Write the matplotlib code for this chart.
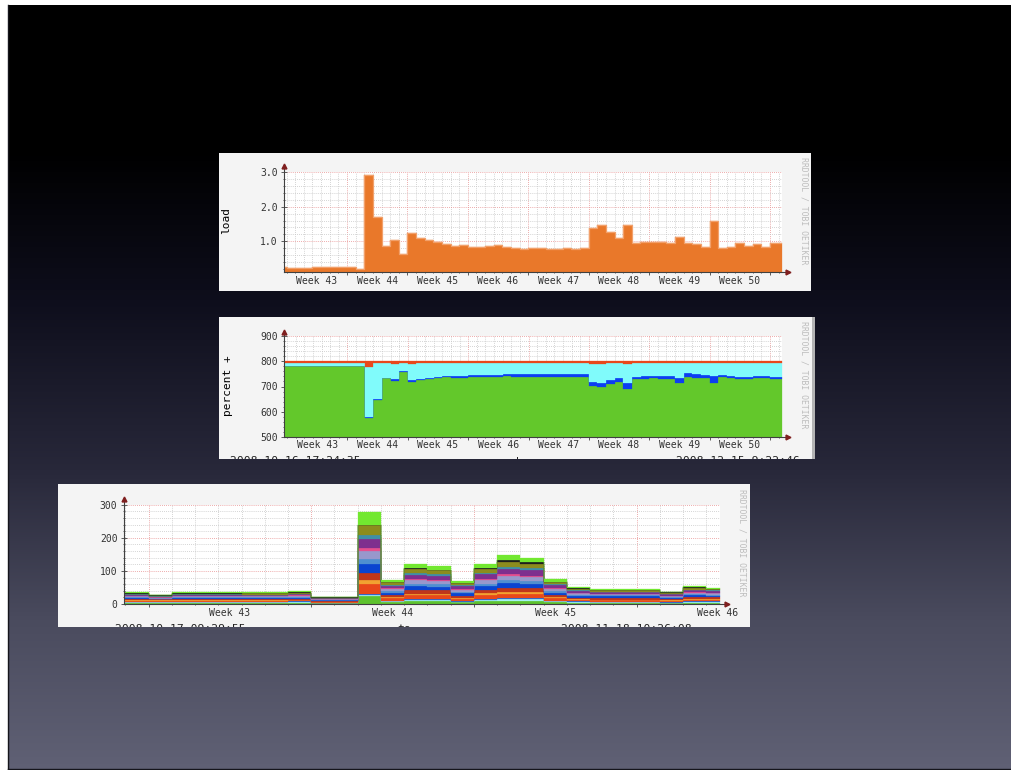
import matplotlib
matplotlib.use("Agg")
import matplotlib.pyplot as plt
import matplotlib.transforms as mtransforms
import numpy as np
from matplotlib.patches import Rectangle

W, H = 1012, 770
MONO = "DejaVu Sans Mono"

# daily load average over eight weeks
load_avg = [0.26, 0.22, 0.22, 0.22, 0.25, 0.25, 0.25, 0.25, 0.25, 0.20,
            2.91, 1.70, 0.86, 1.03, 0.63, 1.23, 1.09, 1.03, 0.97, 0.92,
            0.86, 0.88, 0.85, 0.83, 0.86, 0.88, 0.83, 0.80, 0.77, 0.80,
            0.82, 0.78, 0.79, 0.80, 0.78, 0.80, 1.38, 1.46, 1.28, 1.11,
            1.46, 0.95, 0.97, 0.99, 0.97, 0.95, 1.12, 0.95, 0.92, 0.85,
            1.60, 0.80, 0.83, 0.95, 0.87, 0.93, 0.83, 0.95]

# cpu usage of 8 cores (percent), stacked idle / system / user / wait
cpu_total = 800
cpu_idle = [782] * 10 + [575, 648, 732, 721, 758, 717, 725, 729, 733, 736,
                         734, 732, 737, 737, 737, 737, 740] + [739] * 9 + \
           [703, 699, 708, 718, 692, 728, 730, 732, 730, 730, 712, 736,
            732, 733, 712, 738, 733, 728, 729, 733, 733, 729]
cpu_system = [1] * 10 + [3, 2, 3, 7, 2, 8, 5, 5, 5, 6, 7, 8, 8, 8, 8, 8, 10] + \
             [11] * 9 + [16, 14, 17, 16, 23, 10, 12, 9, 12, 12, 20, 16, 16,
                         11, 29, 8, 9, 10, 8, 9, 8, 9]
cpu_wait = [6] * 10 + [24, 7, 7, 12, 7, 12] + [7] * 20 + [12, 10, 7, 7, 12] + [7] * 17

week_labels = ["Week 43", "Week 44", "Week 45", "Week 46",
               "Week 47", "Week 48", "Week 49", "Week 50"]

# per-process cpu time, daily, stacked bottom to top
proc_green = [3, 3, 3, 3, 3, 3, 3, 3, 2, 2, 25, 6, 8, 8, 5, 9, 10, 10, 6, 4, 3, 3, 3, 3, 4, 4]
proc_cyan = [2, 2, 2, 2, 2, 2, 2, 3, 1, 1, 3, 2, 3, 3, 2, 3, 4, 4, 2, 2, 2, 2, 2, 1, 2, 2]
proc_blue = [2, 1, 2, 2, 2, 2, 2, 2, 1, 1, 3, 2, 3, 3, 2, 3, 3, 3, 2, 2, 1, 1, 1, 1, 2, 2]
proc_vermilion = [3, 3, 3, 3, 3, 3, 3, 3, 2, 2, 28, 8, 12, 12, 7, 12, 14, 13, 8, 5, 5, 5, 5, 4, 5, 5]
proc_orange = [2, 2, 2, 2, 2, 2, 2, 2, 1, 1, 12, 3, 5, 5, 3, 5, 6, 6, 3, 2, 2, 2, 2, 2, 3, 2]
proc_darkred = [3, 3, 3, 3, 3, 3, 3, 3, 2, 2, 23, 6, 10, 10, 6, 10, 12, 12, 6, 4, 5, 5, 5, 4, 5, 5]
proc_royal = [3, 2, 3, 3, 3, 3, 3, 3, 2, 2, 26, 7, 12, 11, 7, 12, 14, 13, 7, 5, 5, 5, 5, 4, 5, 5]
proc_steel = [2, 1, 2, 2, 2, 2, 2, 2, 1, 1, 15, 4, 7, 7, 4, 7, 9, 8, 4, 3, 3, 3, 3, 2, 3, 3]
proc_lavender = [3, 2, 3, 3, 3, 3, 3, 3, 2, 2, 25, 7, 11, 10, 6, 11, 13, 12, 7, 5, 4, 4, 4, 3, 5, 4]
proc_pink = [2, 1, 2, 2, 2, 1, 1, 2, 1, 1, 9, 3, 4, 4, 3, 4, 5, 5, 3, 2, 1, 1, 1, 1, 2, 2]
proc_purple = [3, 2, 3, 3, 3, 3, 3, 3, 2, 2, 28, 7, 14, 13, 8, 14, 17, 16, 8, 5, 4, 4, 4, 4, 5, 5]
proc_teal = [1, 1, 1, 1, 1, 1, 1, 1, 1, 1, 12, 3, 5, 5, 3, 5, 6, 6, 3, 2, 2, 2, 2, 1, 2, 2]
proc_olive = [2, 1, 2, 2, 2, 4, 4, 2, 1, 1, 29, 7, 12, 11, 7, 12, 14, 13, 7, 5, 4, 4, 4, 3, 5, 4]
proc_black = [2, 2, 2, 2, 2, 1, 1, 3, 1, 1, 0, 1, 2, 2, 1, 2, 5, 5, 1, 1, 1, 1, 1, 2, 2, 1]
proc_lime = [2, 2, 2, 2, 2, 2, 2, 3, 2, 2, 40, 7, 12, 10, 6, 13, 15, 12, 8, 5, 3, 3, 3, 2, 4, 2]
proc_week_labels = ["Week 43", "Week 44", "Week 45", "Week 46"]

proc_layers = [
    (proc_green, "#5ec22e"), (proc_cyan, "#a4f2f2"), (proc_blue, "#1d6be0"),
    (proc_vermilion, "#e8481a"), (proc_orange, "#f2a231"), (proc_darkred, "#c0361a"),
    (proc_royal, "#0a44d0"), (proc_steel, "#4f8fd0"), (proc_lavender, "#9898cc"),
    (proc_pink, "#e54f8e"), (proc_purple, "#7e2f8e"), (proc_teal, "#3f8fa8"),
    (proc_olive, "#8c8c1e"), (proc_black, "#1e1e1e"), (proc_lime, "#72e830"),
]


def day_edges(first, last_start, end):
    """Step edges: a partial first day, whole days, then a partial last one."""
    return np.r_[0.0, np.arange(first, last_start + 0.01, 1.0), end]


def step_fill(ax, edges, lower, upper, color):
    lo = np.r_[lower, lower[-1]]
    hi = np.r_[upper, upper[-1]]
    ax.fill_between(edges, lo, hi, step="post", facecolor=color,
                    edgecolor=color, lw=0.2)


def px_axes(x0, y0, x1, y1):
    return fig.add_axes([x0 / W, 1 - y1 / H, (x1 - x0) / W, (y1 - y0) / H])


def rrd_style(ax, xlim, ylim, days, weeks, mids, names,
              ymajor, yminor, ylabels, arrow_x, arrow_y):
    ax.set_xlim(xlim)
    ax.set_ylim(ylim)
    ax.set_facecolor("white")
    for s in ax.spines.values():
        s.set_visible(False)
    ax.set_xticks(weeks)
    ax.set_xticklabels([])
    ax.set_xticks(days, minor=True)
    ax.set_yticks(ymajor)
    ax.set_yticklabels(ylabels, fontfamily=MONO, fontsize=7, color="#333333")
    ax.set_yticks(yminor, minor=True)
    ax.set_axisbelow(True)
    ax.grid(which="minor", color="#c6c6c6", lw=0.6, ls=(0, (1, 1.5)))
    ax.grid(which="major", color="#e89090", lw=0.6, ls=(0, (1, 1.5)))
    ax.tick_params(which="both", direction="inout", color="#444444", width=0.6)
    ax.tick_params(which="major", length=4, pad=2.5)
    ax.tick_params(which="minor", length=2)

    # axis lines with the little arrow heads
    ax.plot([0, 1 + arrow_x], [0, 0], transform=ax.transAxes, color="#404040",
            lw=0.8, clip_on=False, zorder=5)
    ax.plot([0, 0], [0, 1 + arrow_y], transform=ax.transAxes, color="#404040",
            lw=0.8, clip_on=False, zorder=5)
    ax.plot([1 + arrow_x], [0], marker=">", ms=3.5, color="#7f1f1f",
            transform=ax.transAxes, clip_on=False, zorder=6)
    ax.plot([0], [1 + arrow_y], marker="^", ms=3.5, color="#7f1f1f",
            transform=ax.transAxes, clip_on=False, zorder=6)

    trans = mtransforms.offset_copy(ax.get_xaxis_transform(), fig=fig,
                                    y=-8.5, units="dots")
    for m, n in zip(mids, names):
        ax.text(m, 0, n, transform=trans, ha="center", va="center",
                fontfamily=MONO, fontsize=7, color="#333333")


fig = plt.figure(figsize=(W / 100, H / 100), dpi=100, facecolor="white")

# slide background
bg = fig.add_axes([0, 0, 1, 1])
bg.set_xlim(0, W)
bg.set_ylim(H, 0)
bg.axis("off")
rows = np.arange(5, H)
stop_y = [5, 150, 300, 470, 620, 770]
stop_rgb = [(0, 0, 0), (0, 0, 0), (14, 14, 28), (40, 40, 58), (74, 75, 94), (96, 97, 117)]
grad = np.stack([np.interp(rows, stop_y, [c[i] for c in stop_rgb]) for i in range(3)], axis=-1)
bg.imshow(grad[:, None, :] / 255.0, extent=[8, W, H, 5], aspect="auto", zorder=0)
bg.plot([8.5, 8.5], [5, H], color="#15151c", lw=1)
bg.plot([8, W], [768.5, 768.5], color="#15151c", lw=1)

# graph canvases (x, y, w, h in pixels)
canvas1 = (219, 153, 592, 138)
canvas2 = (219, 317, 593, 142)
canvas3 = (58, 484, 692, 143)
for x, y, w, h in (canvas1, canvas2, canvas3):
    bg.add_patch(Rectangle((x, y), w, h, facecolor="#f4f4f4", edgecolor="none"))
bg.add_patch(Rectangle((812, 317), 3, 142, facecolor="#b4b4b4", edgecolor="none"))

for x, y0, y1 in ((804, 156, 265), (804, 320, 429), (742.5, 489, 596)):
    bg.text(x, (y0 + y1) / 2, "RRDTOOL / TOBI OETIKER", rotation=270,
            ha="center", va="center", fontfamily=MONO, fontsize=5.9, color="#bdbdbd")
bg.text(226.5, 221, "load", rotation=90, ha="center", va="center",
        fontfamily=MONO, fontsize=8, color="black")
bg.text(228, 386, "percent +", rotation=90, ha="center", va="center",
        fontfamily=MONO, fontsize=8, color="black")

# period captions, cut off by the bottom of their canvas
captions = [
    (230, 456.5, "left", "2008-10-16 17:24:35", canvas2),
    (517, 456.5, "center", "|", canvas2),
    (800, 456.5, "right", "2008-12-15 9:22:46", canvas2),
    (115, 624.5, "left", "2008-10-17 09:29:55", canvas3),
    (404, 624.5, "center", "to", canvas3),
    (692, 624.5, "right", "2008-11-18 10:26:08", canvas3),
]
for x, y, ha, s, (cx, cy, cw, ch) in captions:
    t = bg.text(x, y, s, ha=ha, va="top", fontfamily=MONO, fontsize=8.2, color="#222222")
    clip = mtransforms.TransformedBbox(
        mtransforms.Bbox([[cx, cy], [cx + cw, cy + ch]]), bg.transData)
    t.set_clip_box(clip)
    t.set_clip_on(True)

# eight week graphs share the same time axis
edges8 = day_edges(0.3, 56.3, 57.7)
days8 = np.arange(0.3, 57.7, 1.0)
weeks8 = np.arange(7.3, 57.7, 7.0)
mids8 = np.arange(3.8, 57.7, 7.0)

# load average
ax1 = px_axes(284, 172, 782, 272)
rrd_style(ax1, (0, 57.7), (0.115, 3.0), days8, weeks8, mids8, week_labels,
          [1, 2, 3], np.arange(0.2, 3.0, 0.2), ["1.0", "2.0", "3.0"], 0.013, 0.06)
load = np.array(load_avg)
step_fill(ax1, edges8, np.zeros_like(load), load, "#e9782a")
ax1.step(edges8, np.r_[load, load[-1]], where="post", color="#f2a06a", lw=0.9)

# cpu usage
ax2 = px_axes(284.5, 336, 782, 437)
rrd_style(ax2, (0, 57.7), (500, 900), days8, weeks8, mids8, week_labels,
          [500, 600, 700, 800, 900], np.arange(500, 900, 20),
          ["500", "600", "700", "800", "900"], 0.013, 0.04)
idle = np.array(cpu_idle, dtype=float)
system = idle + np.array(cpu_system)
user_top = cpu_total - np.array(cpu_wait, dtype=float)
top = np.full_like(idle, cpu_total)
step_fill(ax2, edges8, np.zeros_like(idle), idle, "#63c82b")
step_fill(ax2, edges8, idle, system, "#0c3ef2")
step_fill(ax2, edges8, system, user_top, "#80fbfb")
step_fill(ax2, edges8, user_top, top, "#e8481c")

# per-process usage, 3.5 weeks
edges3 = day_edges(1.07, 25.07, 25.66)
days3 = np.r_[0.07, np.arange(1.07, 25.66, 1.0)]
weeks3 = np.arange(1.07, 25.66, 7.0)
mids3 = np.arange(4.57, 25.66, 7.0)
ax3 = px_axes(123.7, 504.7, 720, 604)
rrd_style(ax3, (0, 25.66), (0, 300), days3, weeks3, mids3, proc_week_labels,
          [0, 100, 200, 300], np.arange(0, 300, 20), ["0", "100", "200", "300"],
          0.011, 0.055)
base = np.zeros(len(proc_green))
for vals, color in proc_layers:
    upper = base + np.array(vals)
    step_fill(ax3, edges3, base, upper, color)
    base = upper

fig.savefig("out.png", dpi=100, facecolor=fig.get_facecolor())
